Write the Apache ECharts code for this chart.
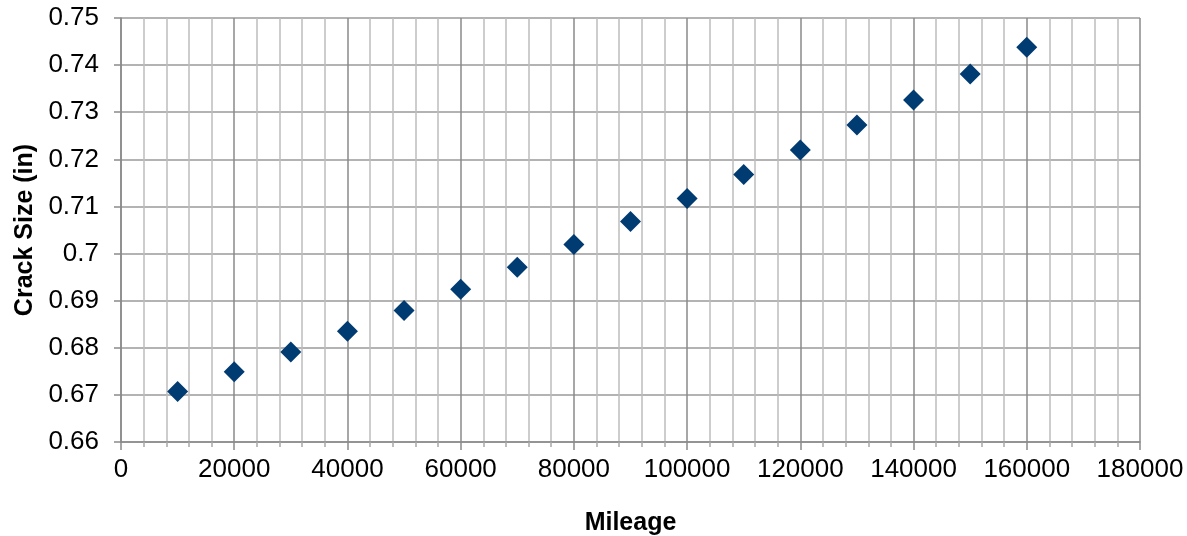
<!DOCTYPE html>
<html>
<head>
<meta charset="utf-8">
<style>
  html, body { margin: 0; padding: 0; background: #fff; }
  #chart { width: 1187px; height: 536px; }
</style>
<script src="https://cdn.jsdelivr.net/npm/echarts@6/dist/echarts.min.js"></script>
</head>
<body>
<div id="chart"></div>
<script>
// Mileage readings and the measured crack size at each
const mileage = [10000, 20000, 30000, 40000, 50000, 60000, 70000, 80000,
                 90000, 100000, 110000, 120000, 130000, 140000, 150000, 160000];
const crackSize = [0.6707, 0.6749, 0.6791, 0.6835, 0.6879, 0.6924, 0.6971, 0.7019,
                   0.7068, 0.7117, 0.7168, 0.7220, 0.7273, 0.7326, 0.7381, 0.7438];

const xName = 'Mileage';
const yName = 'Crack Size (in)';

const font = 'Liberation Sans, Arial, sans-serif';

const chart = echarts.init(document.getElementById('chart'), null, { renderer: 'canvas' });

chart.setOption({
  animation: false,
  backgroundColor: '#ffffff',
  grid: {
    left: 121, right: 47, top: 18, bottom: 94,
    containLabel: false,
    outerBoundsMode: 'none'
  },
  xAxis: {
    type: 'value',
    min: 0, max: 180000, interval: 20000,
    name: xName,
    nameLocation: 'middle',
    nameGap: 69,
    nameTextStyle: { fontFamily: font, fontSize: 25, fontWeight: 'bold', color: '#000' },
    axisLine: { show: true, lineStyle: { color: '#8a8a8a', width: 1.5 } },
    axisTick: { show: true, inside: false, length: 8, lineStyle: { color: '#8a8a8a', width: 1.5 } },
    minorTick: { show: true, splitNumber: 5, length: 5, lineStyle: { color: '#a8a8a8', width: 1.5 } },
    axisLabel: {
      fontFamily: font, fontSize: 26, color: '#000', margin: 15,
      formatter: v => String(Math.round(v))
    },
    splitLine: { show: true, lineStyle: { color: '#8a8a8a', width: 1.5 } },
    minorSplitLine: { show: true, lineStyle: { color: '#bdbdbd', width: 1.5 } }
  },
  yAxis: {
    type: 'value',
    min: 0.66, max: 0.75, interval: 0.01,
    name: yName,
    nameLocation: 'middle',
    nameGap: 82,
    nameRotate: 90,
    nameTextStyle: { fontFamily: font, fontSize: 25, fontWeight: 'bold', color: '#000' },
    axisLine: { show: true, lineStyle: { color: '#8a8a8a', width: 1.5 } },
    axisTick: { show: true, inside: false, length: 7, lineStyle: { color: '#8a8a8a', width: 1.5 } },
    axisLabel: {
      fontFamily: font, fontSize: 26, color: '#000', margin: 22,
      formatter: v => String(parseFloat(v.toFixed(2)))
    },
    splitLine: { show: true, lineStyle: { color: '#9a9a9a', width: 1.5 } }
  },
  series: [{
    type: 'scatter',
    symbol: 'diamond',
    symbolSize: 21,
    itemStyle: { color: '#003b72', opacity: 1 },
    data: mileage.map((m, i) => [m, crackSize[i]])
  }]
});
</script>
</body>
</html>
